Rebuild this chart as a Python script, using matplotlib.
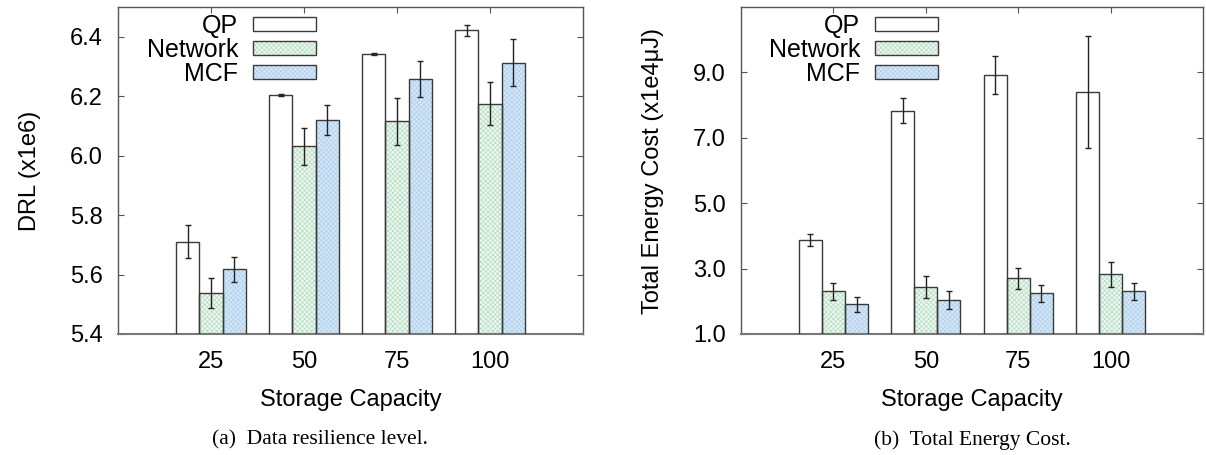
import numpy as np
import matplotlib.pyplot as plt
from matplotlib.patches import Patch
from matplotlib.legend_handler import HandlerTuple

plt.rcParams['font.family'] = ['Liberation Sans', 'DejaVu Sans']
plt.rcParams['hatch.linewidth'] = 0.5

#Data
capacity = ['25', '50', '75', '100']
series = ['QP', 'Network', 'MCF']

drl_qp = [5.71, 6.205, 6.342, 6.421]
drl_qp_err = [0.055, 0.003, 0.003, 0.02]
drl_net = [5.537, 6.031, 6.115, 6.175]
drl_net_err = [0.05, 0.063, 0.08, 0.072]
drl_mcf = [5.617, 6.119, 6.258, 6.313]
drl_mcf_err = [0.042, 0.05, 0.061, 0.079]

cost_qp = [3.88, 7.83, 8.92, 8.41]
cost_qp_err = [0.18, 0.38, 0.59, 1.71]
cost_net = [2.30, 2.45, 2.71, 2.82]
cost_net_err = [0.26, 0.335, 0.32, 0.37]
cost_mcf = [1.905, 2.04, 2.24, 2.30]
cost_mcf_err = [0.22, 0.29, 0.26, 0.27]

#Styles
face = ['white', '#eef8f1', '#d3e7f8']
hatch_col = [None, '#b3dcc1', '#b2d0ec']
edge = '#3a3a3a'
W, H = 1206, 455

fig = plt.figure(figsize=(W/100, H/100), dpi=100)
ax1 = fig.add_axes([118/W, 121/H, 465/W, 327/H])
ax2 = fig.add_axes([741/W, 121/H, 462/W, 327/H])

def draw(ax, vals, errs, ylim, yticks, ylabel, leg_x):
    x = np.arange(1, len(capacity)+1)
    w = 0.25
    handles = []
    for i, (v, e) in enumerate(zip(vals, errs)):
        pos = x + (i-1)*w
        ax.bar(pos, v, w, color=face[i], linewidth=0, zorder=2)
        parts = [Patch(facecolor=face[i], linewidth=0)]
        if hatch_col[i]:
            ax.bar(pos, v, w, color='none', edgecolor=hatch_col[i], hatch='xxxxxxx', linewidth=0, zorder=2)
            parts.append(Patch(facecolor='none', edgecolor=hatch_col[i], hatch='xxxxxxx', linewidth=0))
        ax.bar(pos, v, w, color='none', edgecolor=edge, linewidth=1.0, zorder=3)
        parts.append(Patch(facecolor='none', edgecolor=edge, linewidth=1.0))
        ax.errorbar(pos, v, yerr=e, fmt='none', ecolor='#222222', elinewidth=1.0,
                    capsize=2, capthick=1.0, zorder=4)
        handles.append(tuple(parts))
    ax.set_xlim(0, 5)
    ax.set_ylim(*ylim)
    ax.set_xticks(x)
    ax.set_xticklabels(capacity)
    ax.set_yticks(yticks)
    ax.set_yticklabels(['%.1f' % t for t in yticks])
    ax.tick_params(direction='in', top=True, right=True, labelsize=17, length=4, width=0.8, color='#555555')
    ax.tick_params(axis='y', pad=11)
    ax.tick_params(axis='x', pad=12)
    for s in ax.spines.values():
        s.set_color('#555555')
        s.set_linewidth(1.0)
    ax.spines['bottom'].set_linewidth(1.5)
    ax.spines['bottom'].set_color('#777777')
    ax.set_ylabel(ylabel, fontsize=17, labelpad=21)
    ax.set_xlabel('Storage Capacity', fontsize=17, labelpad=12)
    ax.legend(handles=handles, labels=series, handler_map={tuple: HandlerTuple(ndivide=1, pad=0)},
              loc='upper right', bbox_to_anchor=(leg_x, 0.99), frameon=False,
              markerfirst=False, fontsize=18, handlelength=2.5, handleheight=0.5,
              labelspacing=0.0, handletextpad=0.6, borderpad=0.15, borderaxespad=0)

draw(ax1, [drl_qp, drl_net, drl_mcf], [drl_qp_err, drl_net_err, drl_mcf_err],
     (5.4, 6.5), [5.4, 5.6, 5.8, 6.0, 6.2, 6.4], 'DRL (x1e6)', 0.433)
draw(ax2, [cost_qp, cost_net, cost_mcf], [cost_qp_err, cost_net_err, cost_mcf_err],
     (1.0, 11.0), [1.0, 3.0, 5.0, 7.0, 9.0], 'Total Energy Cost (x1e4\u03bcJ)', 0.434)

fig.text(320/W, 1-440/H, '(a)  Data resilience level.', ha='center', va='center',
         fontsize=15.5, family='Liberation Serif')
fig.text(972/W, 1-440/H, '(b)  Total Energy Cost.', ha='center', va='center',
         fontsize=15.5, family='Liberation Serif')

fig.savefig('out.png', dpi=100)
